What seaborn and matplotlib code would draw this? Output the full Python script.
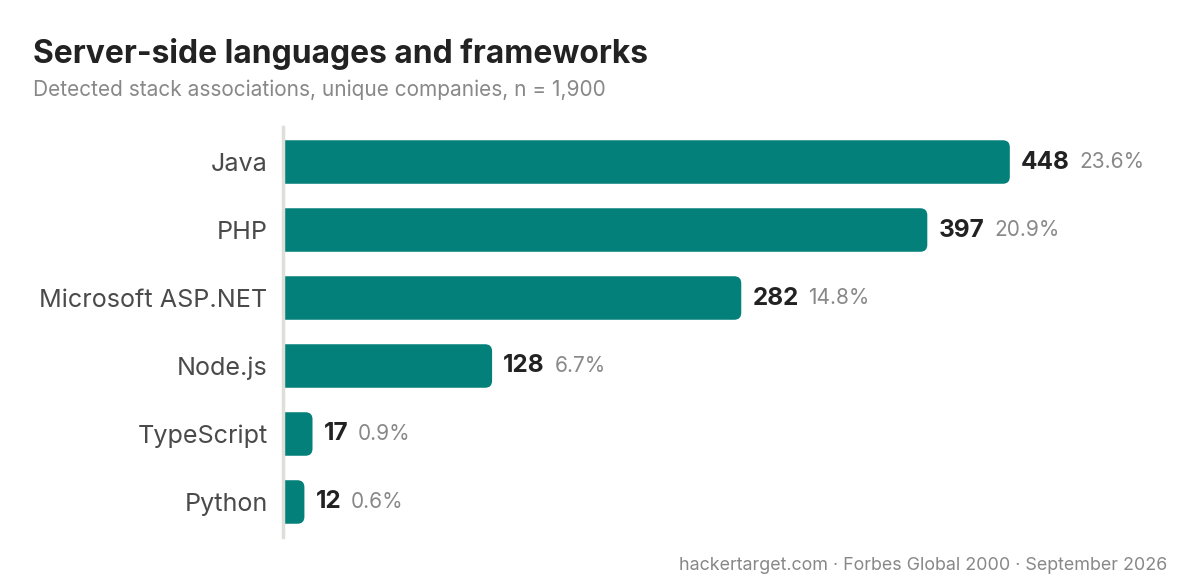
import matplotlib
matplotlib.use("Agg")
import matplotlib.pyplot as plt
import seaborn as sns
import pandas as pd
from matplotlib.patches import FancyBboxPatch

languages = ['Java', 'PHP', 'Microsoft ASP.NET', 'Node.js', 'TypeScript', 'Python']
companies = [448, 397, 282, 128, 17, 12]
share_pct = [23.6, 20.9, 14.8, 6.7, 0.9, 0.6]

df = pd.DataFrame({'Language': languages, 'Companies': companies})

sns.set_style('white')
plt.rcParams['font.family'] = ['Inter', 'DejaVu Sans']

teal = '#03807A'
W, H = 1200, 588
fig = plt.figure(figsize=(W / 100, H / 100), dpi=100)
# axes placed in pixel terms
left, right, top, bottom = 285, 1170, 127, 537
ax = fig.add_axes([left / W, 1 - bottom / H, (right - left) / W, (bottom - top) / H])

sns.barplot(data=df, x='Companies', y='Language', color=teal, width=0.64,
            saturation=1, ax=ax)

xmax = 547
ax.set_xlim(0, xmax)
ax.set_ylim(5.515, -0.515)

# swap plain bars for ones with rounded right ends
px_x = (right - left) / xmax
px_y = (bottom - top) / 6.03
rad = 7
r_x = rad / px_x
aspect = (rad / px_y) / r_x
for p in list(ax.patches):
    x0, y0, w, h = p.get_x(), p.get_y(), p.get_width(), p.get_height()
    p.remove()
    fb = FancyBboxPatch((x0 - r_x, y0), w + r_x, h,
                        boxstyle=f'round,pad=0,rounding_size={r_x}',
                        mutation_aspect=aspect, fc=teal, ec='none')
    ax.add_patch(fb)

for i, (v, pc) in enumerate(zip(companies, share_pct)):
    t = ax.annotate(f'{v}', xy=(v, i), xytext=(8, 0), textcoords='offset points',
                    ha='left', va='center', fontsize=17.5, fontweight='bold',
                    color='#222222')
    ax.annotate(f'{pc}%', xy=(1, 0.5), xycoords=t, xytext=(7, 0),
                textcoords='offset points', ha='left', va='center',
                fontsize=15, color='#888888')

ax.set_xlabel('')
ax.set_ylabel('')
ax.set_xticks([])
ax.tick_params(axis='y', length=0, pad=11, labelsize=18.1, labelcolor='#4a4a4a')
for lbl in ax.get_yticklabels():
    lbl.set_va('center_baseline')
for s in ['top', 'right', 'bottom']:
    ax.spines[s].set_visible(False)
ax.spines['left'].set_color('#E0DED9')
ax.spines['left'].set_linewidth(2.5)
ax.spines['left'].set_position(('outward', 1.5))

fig.text(33 / W, 1 - 63 / H, 'Server-side languages and frameworks',
         fontsize=22.9, fontweight='bold', color='#222222', ha='left', va='baseline')
fig.text(33 / W, 1 - 96 / H, 'Detected stack associations, unique companies, n = 1,900',
         fontsize=15, color='#888888', ha='left', va='baseline')
fig.text(1167 / W, 1 - 570 / H, 'hackertarget.com · Forbes Global 2000 · September 2026',
         fontsize=12.9, color='#888888', ha='right', va='baseline')

fig.savefig('out.png', dpi=100, facecolor='white')
